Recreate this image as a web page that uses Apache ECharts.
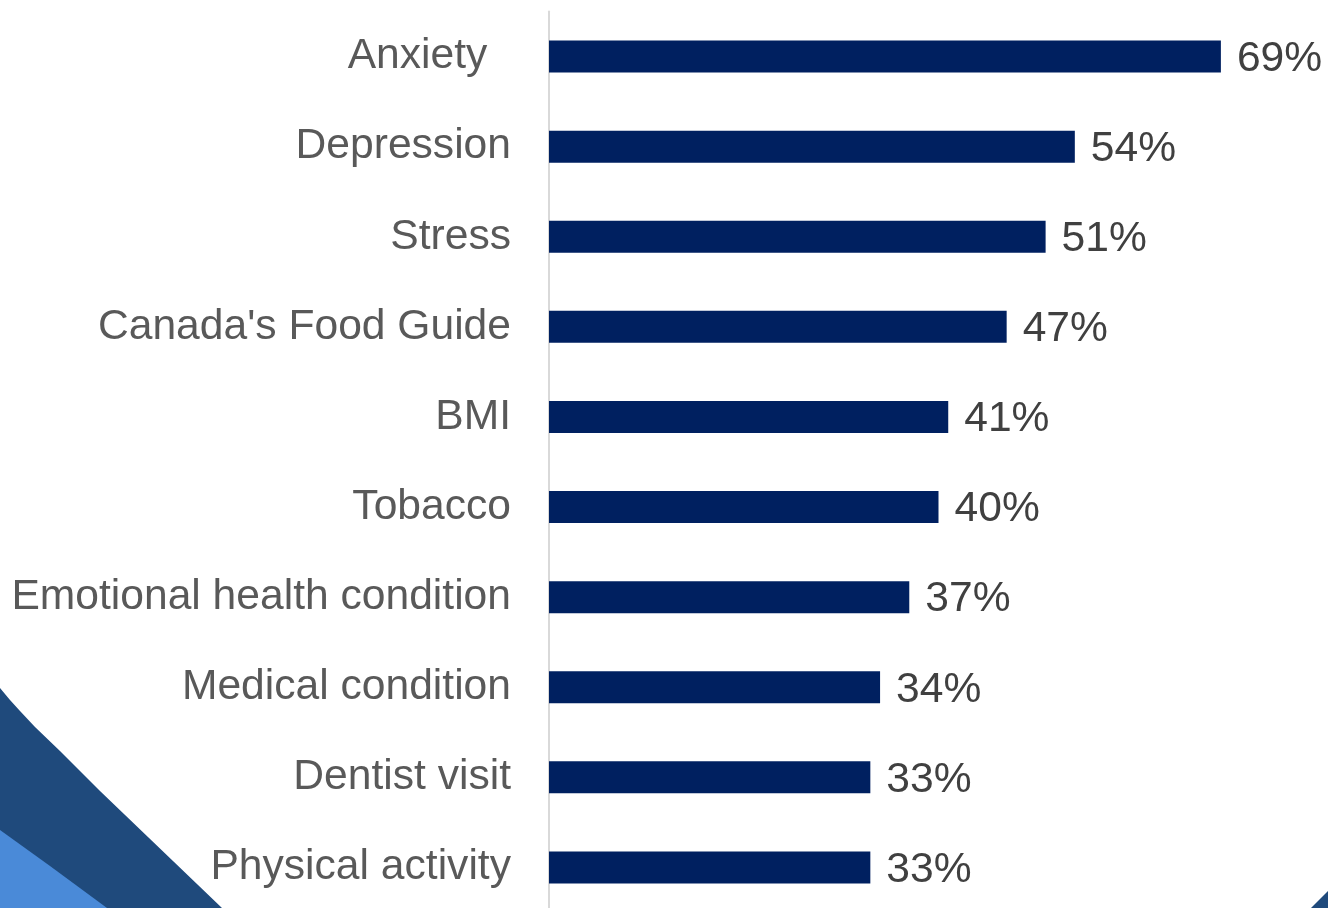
<!DOCTYPE html>
<html>
<head>
<meta charset="utf-8">
<script src="https://cdn.jsdelivr.net/npm/echarts@6/dist/echarts.min.js"></script>
<style>
  html, body { margin: 0; padding: 0; background: #ffffff; overflow: hidden; }
  #chart { width: 1328px; height: 920px; }
</style>
</head>
<body>
<div id="chart"></div>
<script>
// Topics, top to bottom
const categories = [
  'Anxiety  ',
  'Depression',
  'Stress',
  "Canada's Food Guide",
  'BMI',
  'Tobacco',
  'Emotional health condition',
  'Medical condition',
  'Dentist visit',
  'Physical activity'
];
// Share of respondents (%)
const values = [69, 54, 51, 47, 41, 40, 37, 34, 33, 33];

const chart = echarts.init(document.getElementById('chart'), null, { renderer: 'canvas' });

const font = 'Liberation Sans, Arial, sans-serif';

chart.setOption({
  animation: false,
  backgroundColor: '#ffffff',
  // the plot runs a little past the lower page edge
  grid: { left: 549, right: 0, top: 11.5, height: 901, containLabel: false },
  xAxis: {
    type: 'value',
    min: 0,
    max: 80,
    show: false
  },
  yAxis: {
    type: 'category',
    inverse: true,
    data: categories,
    axisLine: { show: true, lineStyle: { color: '#d9d9d9', width: 2 } },
    axisTick: { show: false },
    axisLabel: {
      color: '#595959',
      fontFamily: font,
      fontSize: 42.6,
      margin: 38,
      padding: [5, 0, 0, 0]
    }
  },
  graphic: [
    {
      type: 'polygon',
      z: -10,
      silent: true,
      shape: { points: [[0, 688], [10, 700], [20, 711], [35, 727], [60, 751], [100, 791], [222, 908], [0, 908]] },
      style: { fill: '#1f4a7c' }
    },
    {
      type: 'polygon',
      z: -9,
      silent: true,
      shape: { points: [[0, 830], [50, 866], [107, 908], [0, 908]] },
      style: { fill: '#4a8ad8' }
    },
    {
      type: 'polygon',
      z: -10,
      silent: true,
      shape: { points: [[1311, 908], [1328, 891], [1328, 908]] },
      style: { fill: '#1f4a7c' }
    }
  ],
  series: [{
    type: 'bar',
    data: values,
    barWidth: 32,
    itemStyle: { color: '#002060' },
    label: {
      show: true,
      position: 'right',
      distance: 16,
      offset: [0, 2.5],
      formatter: p => p.value + '%',
      color: '#404040',
      fontFamily: font,
      fontSize: 42.6
    }
  }]
});
</script>
</body>
</html>
